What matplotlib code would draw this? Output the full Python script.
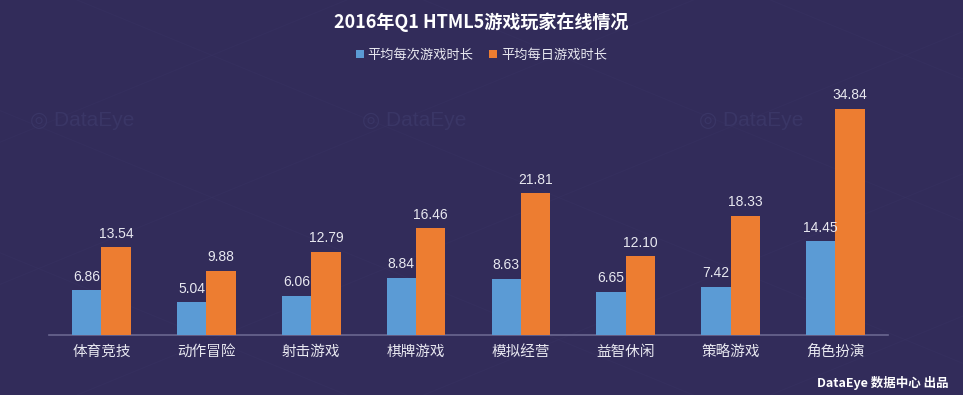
import numpy as np
import matplotlib
matplotlib.use("Agg")
import matplotlib.pyplot as plt
from matplotlib.lines import Line2D

plt.rcParams['font.family'] = ['Noto Sans CJK SC', 'DejaVu Sans']

# data
categories = ['体育竞技', '动作冒险', '射击游戏', '棋牌游戏', '模拟经营', '益智休闲', '策略游戏', '角色扮演']
per_session = [6.86, 5.04, 6.06, 8.84, 8.63, 6.65, 7.42, 14.45]
per_day = [13.54, 9.88, 12.79, 16.46, 21.81, 12.10, 18.33, 34.84]
series_names = ['平均每次游戏时长', '平均每日游戏时长']

bg = '#322c5a'
blue = '#5b9bd5'
orange = '#ed7d31'
txt = '#e8e8f0'
num_font = ['Liberation Sans', 'DejaVu Sans']

fig = plt.figure(figsize=(9.63, 3.95), dpi=100, facecolor=bg)

# faint diagonal lattice in the background
for c in np.arange(-1.0, 2.2, 0.36):
    fig.add_artist(Line2D([c, c + 1.0], [0, 1.0], transform=fig.transFigure,
                          color='#3a356556', lw=0.8, zorder=0))
    fig.add_artist(Line2D([c, c + 1.0], [1.0, 0], transform=fig.transFigure,
                          color='#3a356556', lw=0.8, zorder=0))

# watermarks (top row)
for wx in [0.085, 0.43, 0.78]:
    fig.text(wx, 0.695, '◎ DataEye', color='#3a3666', fontsize=15, ha='center', va='center',
             zorder=0, family=num_font)

ax = fig.add_axes([0.0509, 0.1519, 0.8711, 0.658])
ax.set_facecolor('none')
ax.set_zorder(2)

x = np.arange(len(categories))
w = 0.28
b1 = ax.bar(x - w / 2, per_session, w, color=blue, label=series_names[0], zorder=3)
b2 = ax.bar(x + w / 2, per_day, w, color=orange, label=series_names[1], zorder=3)

for bars, vals in [(b1, per_session), (b2, per_day)]:
    for r, v in zip(bars, vals):
        ax.text(r.get_x() + r.get_width() / 2, v + 1.0, f'{v:.2f}', ha='center', va='bottom',
                color=txt, fontsize=10, family=num_font)

ax.set_xlim(-0.5, len(categories) - 0.5)
ax.set_ylim(0, 40)
ax.set_xticks(x)
ax.set_xticklabels(categories, color=txt, fontsize=10.5)
ax.tick_params(axis='x', length=0, pad=7)
ax.set_yticks([])
for s in ['top', 'right', 'left']:
    ax.spines[s].set_visible(False)
ax.spines['bottom'].set_color('#6a6690')
ax.spines['bottom'].set_linewidth(1.2)

fig.text(0.5, 0.945, '2016年Q1 HTML5游戏玩家在线情况', ha='center', va='center',
         color='white', fontsize=13, fontweight='bold')

leg = fig.legend(handles=[b1, b2], loc='center', bbox_to_anchor=(0.5, 0.86), ncol=2, frameon=False,
                 fontsize=9.5, handlelength=0.6, handleheight=0.6, handletextpad=0.3, columnspacing=1.2)
for t in leg.get_texts():
    t.set_color(txt)

fig.text(0.985, 0.03, 'DataEye 数据中心 出品', ha='right', va='center', color='white',
         fontsize=9, fontweight='bold')

fig.savefig('out.png', dpi=100, facecolor=bg)
